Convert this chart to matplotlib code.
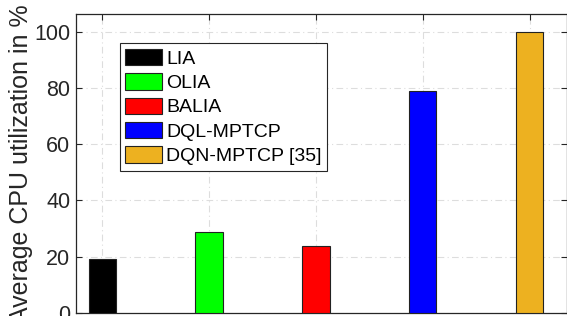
import matplotlib
matplotlib.use("Agg")
import matplotlib.pyplot as plt
from matplotlib.patches import Patch

plt.rcParams['font.family'] = ['Liberation Sans', 'DejaVu Sans']

methods = ["LIA", "OLIA", "BALIA", "DQL-MPTCP", "DQN-MPTCP [35]"]
cpu_util = [19.1, 28.8, 23.8, 79.1, 100.0]
colors = ["#000000", "#00FF00", "#FF0000", "#0000FF", "#EDB120"]
yticks = [0, 20, 40, 60, 80, 100]

W, H = 567, 316
fig = plt.figure(figsize=(W / 100, H / 100), dpi=100)
ax = fig.add_axes([76 / W, (H - 313) / H, (567 - 76) / W, (313 - 14) / H])

xpos = list(range(1, len(methods) + 1))
ax.bar(xpos, cpu_util, width=0.255, color=colors, edgecolor="#222222",
       linewidth=0.8, zorder=3)

ax.set_xlim(0.754, 5.35)
ax.set_ylim(0, 106.3)
ax.set_xticks(xpos)
ax.set_xticklabels([])
ax.set_yticks(yticks)
ax.set_yticklabels([str(t) for t in yticks], fontsize=15.5, color="#262626")
ax.tick_params(direction="in", top=True, right=True, length=4, width=0.8,
               color="#262626", pad=4)
ax.grid(True, linestyle=(0, (6, 3, 1, 3)), color="#DDDDDD", linewidth=0.8, zorder=0)
for s in ax.spines.values():
    s.set_color("#262626")
    s.set_linewidth(0.9)
ax.set_axisbelow(True)
ax.set_ylabel("Average CPU utilization in %", fontsize=18, color="#262626", labelpad=1)

handles = [Patch(facecolor=c, edgecolor="#222222", linewidth=0.8) for c in colors]
leg = ax.legend(handles, methods, loc="upper left",
                bbox_to_anchor=(0.0896, 0.902), borderaxespad=0,
                fontsize=14, fancybox=False, framealpha=1, edgecolor="#262626",
                handlelength=1.9, handleheight=0.93, handletextpad=0.18,
                labelspacing=0.28, borderpad=0.28)
leg.get_frame().set_linewidth(0.8)
leg.set_zorder(5)

fig.savefig("out.png", dpi=100)
